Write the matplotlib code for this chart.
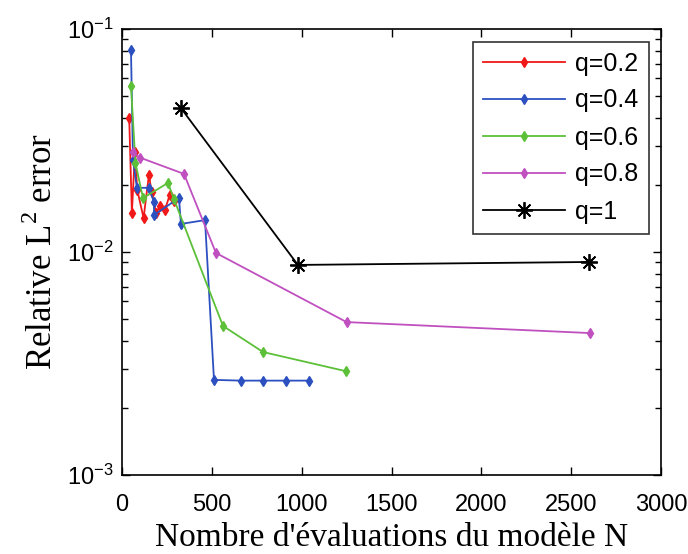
import matplotlib
matplotlib.use("Agg")
import matplotlib.pyplot as plt
from matplotlib.ticker import LogLocator, NullFormatter, MultipleLocator

# Relative L2 error against number of model evaluations, for several q
n_q02 = [40, 55, 72, 85, 120, 150, 165, 190, 210, 240, 265, 290]
e_q02 = [0.040, 0.0150, 0.028, 0.019, 0.0142, 0.0222, 0.0185, 0.0150, 0.0160, 0.0155, 0.0180, 0.0170]

n_q04 = [50, 61, 83, 150, 178, 178, 317, 328, 462, 512, 662, 785, 913, 1041]
e_q04 = [0.0805, 0.0259, 0.0194, 0.0194, 0.01675, 0.01465, 0.01746, 0.01336, 0.0139,
         0.00267, 0.00265, 0.00265, 0.00265, 0.00265]

n_q06 = [50, 75, 117, 256, 290, 562, 785, 1247]
e_q06 = [0.0555, 0.025, 0.01746, 0.0204, 0.0172, 0.00466, 0.00356, 0.00292]

n_q08 = [60, 100, 345, 523, 1250, 2605]
e_q08 = [0.028, 0.0265, 0.0224, 0.0099, 0.00485, 0.00433]

n_q1 = [328, 979, 2599]
e_q1 = [0.0442, 0.00875, 0.00902]

labels = ["q=0.2", "q=0.4", "q=0.6", "q=0.8", "q=1"]
colors = ["#f01818", "#2c50c0", "#5cc038", "#c050c0", "#000000"]

sans = ["Liberation Sans", "DejaVu Sans"]
serif = ["Liberation Serif", "DejaVu Serif"]
plt.rcParams["font.family"] = sans
plt.rcParams["mathtext.fontset"] = "custom"
plt.rcParams["mathtext.rm"] = "Liberation Sans"
plt.rcParams["mathtext.it"] = "Liberation Sans:italic"

fig = plt.figure(figsize=(6.88, 5.54), dpi=100)
ax = fig.add_axes([122 / 688, 1 - 475 / 554, (661 - 122) / 688, (475 - 29) / 554])

series = [(n_q02, e_q02), (n_q04, e_q04), (n_q06, e_q06), (n_q08, e_q08)]
for (n, e), lab, c in zip(series, labels[:4], colors[:4]):
    ax.plot(n, e, color=c, lw=1.3, marker="d", ms=5, mec=c, mfc=c, label=lab)
ax.plot(n_q1, e_q1, color=colors[4], lw=1.3, marker=(8, 2, 0), ms=12, mew=1.3,
        label=labels[4])

ax.set_yscale("log")
ax.set_xlim(0, 3000)
ax.set_ylim(1e-3, 1e-1)
ax.xaxis.set_major_locator(MultipleLocator(500))
ax.yaxis.set_major_locator(LogLocator(base=10, numticks=10))
ax.yaxis.set_minor_locator(LogLocator(base=10, subs=range(2, 10), numticks=10))
ax.yaxis.set_minor_formatter(NullFormatter())
ax.tick_params(which="both", direction="in", top=True, right=True,
               labelsize=17, width=1)
ax.tick_params(which="major", length=6)
ax.tick_params(which="minor", length=4)
ax.tick_params(axis="x", pad=14)
ax.tick_params(axis="y", pad=6)
for s in ax.spines.values():
    s.set_linewidth(1.2)

plt.rcParams["mathtext.rm"] = "Liberation Serif"
ax.set_xlabel("Nombre d'évaluations du modèle N", family=serif, fontsize=24,
              labelpad=4)
ax.set_ylabel(r"Relative L$^{2}$ error", family=serif, fontsize=25, labelpad=5)

leg = ax.legend(loc="upper right", fontsize=18, frameon=True, fancybox=False,
                edgecolor="black", handlelength=3.3, borderpad=0.4,
                labelspacing=0.52, borderaxespad=0.5, handletextpad=0.4)
leg.get_frame().set_linewidth(1.2)

fig.savefig("out.png", dpi=100)
